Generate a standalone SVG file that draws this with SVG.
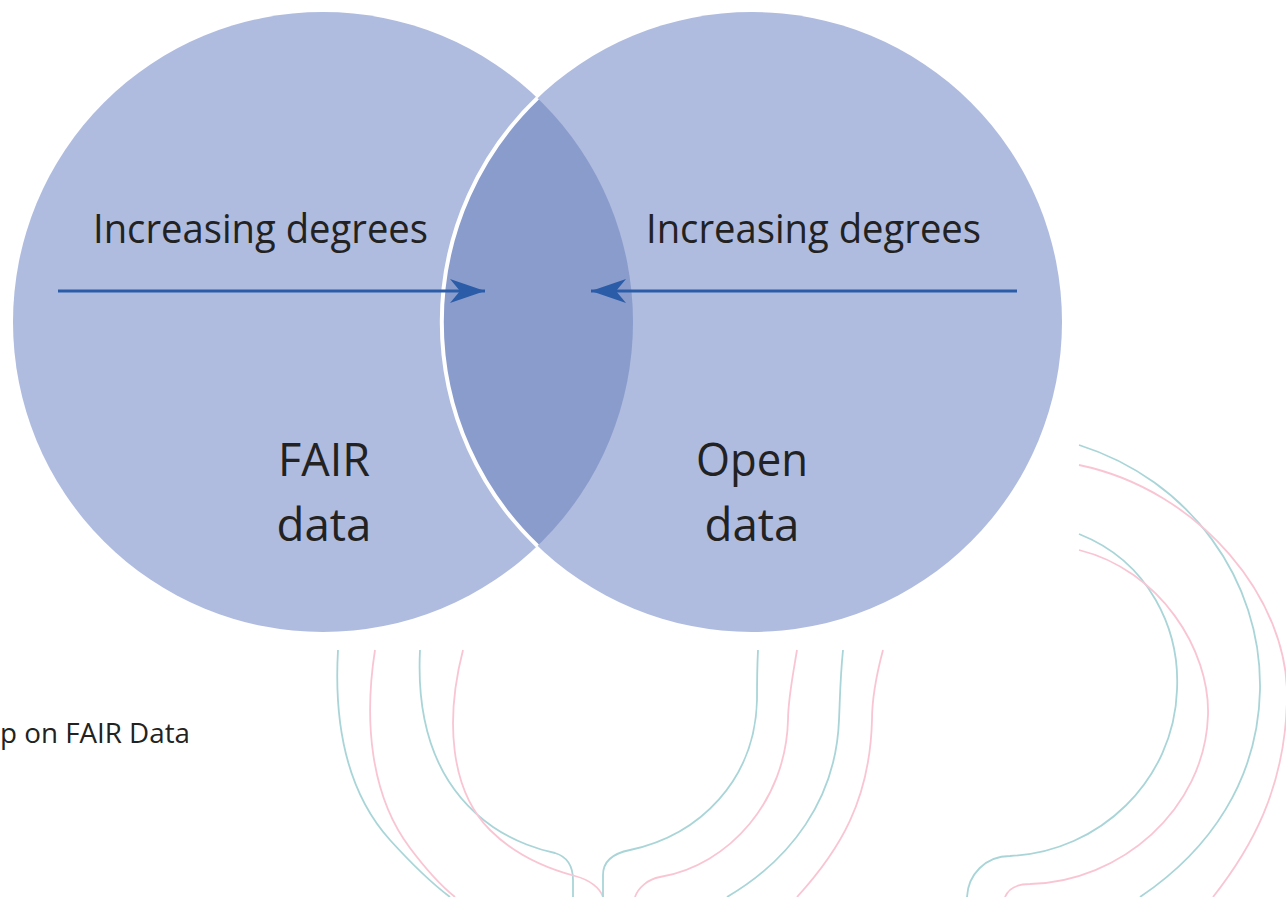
<svg xmlns="http://www.w3.org/2000/svg" width="1286" height="897" viewBox="0 0 1286 897">
<style>
.circ{fill:#afbcdf}
.lens{fill:#8a9ccc}
.lbl{font-family:"Open Sans","Noto Sans",sans-serif;fill:#222222}
.arr{stroke:#2a5ca8;stroke-width:2.8;fill:none}
.teal{stroke:#a9d5d8;stroke-width:1.8;fill:none}
.pink{stroke:#f9c5d3;stroke-width:1.8;fill:none}
</style>
<defs>
<clipPath id="clipL"><circle cx="323" cy="322" r="310"/></clipPath>
<marker id="ah" viewBox="0 0 36 26" refX="35" refY="13" markerWidth="36" markerHeight="26" markerUnits="userSpaceOnUse" orient="auto">
<path d="M0,1 L35,13 L0,25 L10,13 Z" fill="#2a5ca8"/>
</marker>
</defs>
<rect width="1286" height="897" fill="#ffffff"/>
<g id="deco">
<path class="teal" d="M338,650 C334,720 345,790 390,840 C410,862 430,882 450,897"/>
<path class="pink" d="M375,650 C364,720 370,795 410,848 C425,868 440,885 455,897"/>
<path class="teal" d="M420,650 C416,730 440,790 493,827 C515,842 540,850 555,853 C568,857 573,866 573,880 L573,897"/>
<path class="pink" d="M463,650 C445,720 450,790 490,830 C515,855 545,868 575,876 C590,880 600,888 603,897"/>
<path class="teal" d="M758,650 C757,670 757,690 757,700 C755,780 700,835 630,850 C615,853 603,860 603,875 L603,897"/>
<path class="pink" d="M797,650 C792,680 788,700 788,720 C786,800 730,865 660,877 C648,879 638,888 635,897"/>
<path class="teal" d="M843,650 C840,680 840,700 839,720 C836,800 790,860 727,897"/>
<path class="pink" d="M883,650 C875,680 872,700 872,720 C870,800 840,850 797,897"/>
<path class="teal" d="M1079,445 C1190,480 1262,580 1260,690 C1258,780 1210,850 1140,897"/>
<path class="pink" d="M1079,465 C1200,490 1290,600 1287,700 C1285,790 1250,850 1213,897"/>
<path class="teal" d="M1079,534 C1150,562 1180,630 1177,690 C1174,780 1100,852 1010,856 C985,856 968,875 967,897"/>
<path class="pink" d="M1079,550 C1160,570 1210,650 1208,715 C1205,810 1120,882 1030,884 C1015,884 1008,890 1005,897"/>
</g>
<g id="fair">
<circle class="circ" cx="323" cy="322" r="310"/>
</g>
<g id="open">
<circle class="circ" cx="752" cy="322" r="310"/>
</g>
<g id="overlap">
<circle class="lens" cx="752" cy="322" r="310" clip-path="url(#clipL)"/>
<path d="M537.5,98 A310,310 0 0 0 537.5,546" fill="none" stroke="#ffffff" stroke-width="4"/>
</g>
<g id="connectors">
<line class="arr" x1="58" y1="291" x2="485" y2="291" marker-end="url(#ah)"/>
<line class="arr" x1="1017" y1="291" x2="591" y2="291" marker-end="url(#ah)"/>
</g>
<g id="labels">
<text class="lbl" x="93" y="243" font-size="41" textLength="335" lengthAdjust="spacingAndGlyphs">Increasing degrees</text>
<text class="lbl" x="646" y="243" font-size="41" textLength="335" lengthAdjust="spacingAndGlyphs">Increasing degrees</text>
<text class="lbl" x="324" y="476" font-size="45" text-anchor="middle" textLength="92" lengthAdjust="spacingAndGlyphs">FAIR</text>
<text class="lbl" x="324" y="541" font-size="45" text-anchor="middle" textLength="95" lengthAdjust="spacingAndGlyphs">data</text>
<text class="lbl" x="752" y="476" font-size="45" text-anchor="middle" textLength="112" lengthAdjust="spacingAndGlyphs">Open</text>
<text class="lbl" x="752" y="541" font-size="45" text-anchor="middle" textLength="95" lengthAdjust="spacingAndGlyphs">data</text>
<text class="lbl" x="0" y="743" font-size="27" fill="#000000" textLength="190" lengthAdjust="spacingAndGlyphs">p on FAIR Data</text>
</g>
</svg>
